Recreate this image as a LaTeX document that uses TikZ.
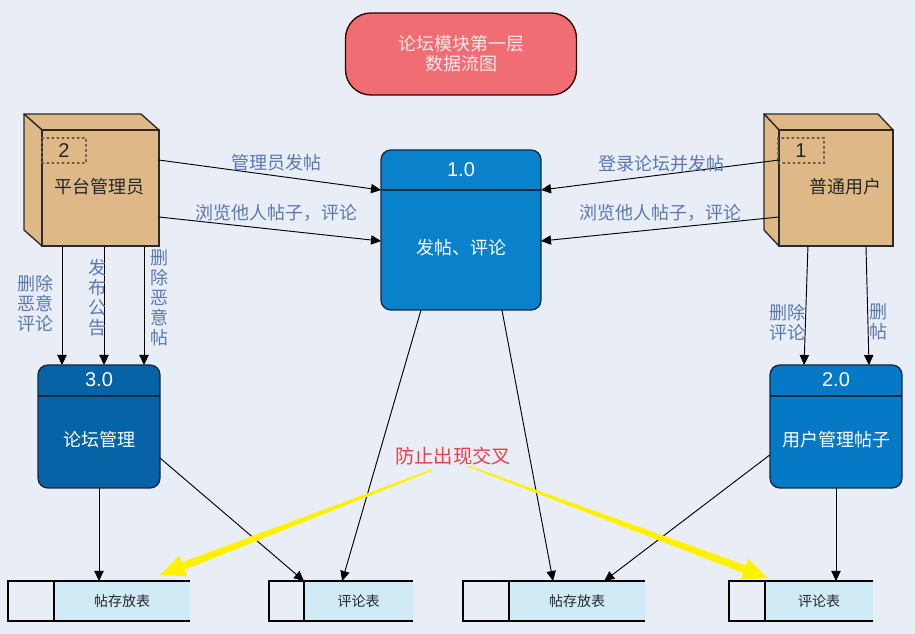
\documentclass[tikz,border=0pt]{standalone}
\usepackage{fontspec}
\setmainfont{Noto Sans CJK SC}
\newfontfamily\numfont{Liberation Sans}
\usetikzlibrary{arrows.meta,calc}
\definecolor{bg}{HTML}{E9EDF5}
\definecolor{titlefill}{HTML}{F06E73}
\definecolor{titletext}{HTML}{FFE8E8}
\definecolor{cube}{HTML}{DEB987}
\definecolor{cubeedge}{HTML}{2A2A2A}
\definecolor{pone}{HTML}{0A82CB}
\definecolor{ptwo}{HTML}{0679C6}
\definecolor{pthree}{HTML}{0563A6}
\definecolor{pedge}{HTML}{142846}
\definecolor{store}{HTML}{D0EAF6}
\definecolor{lbl}{HTML}{5A78B4}
\definecolor{warn}{HTML}{F03C46}
\definecolor{dotc}{HTML}{6E5A46}
\tikzset{
  lblfont/.style={font=\fontsize{13.5}{15}\selectfont},
  procbox/.style={draw=pedge, line width=1pt, rounded corners=7.5pt, inner sep=0pt, outer sep=0pt},
  proctext/.style={text=white, lblfont},
  procnum/.style={text=white, font=\numfont\fontsize{15}{16}\selectfont},
  cubeface/.style={draw=cubeedge, fill=cube, line width=1pt, inner sep=0pt, outer sep=0pt},
  dotbox/.style={draw=dotc, line width=1.1pt, dash pattern=on 1.2pt off 2.6pt, line cap=round, inner sep=0pt, outer sep=0pt, minimum width=33pt, minimum height=18.75pt, text=black!85, font=\numfont\fontsize{15}{16}\selectfont},
  edgelabel/.style={text=lbl, lblfont, align=center, inner sep=0pt},
  storemain/.style={fill=store, inner sep=0pt, outer sep=0pt, minimum height=30pt, font=\fontsize{10.5}{12}\selectfont, text=black!85},
  storebox/.style={draw=black, fill=bg, line width=1pt, inner sep=0pt, outer sep=0pt, minimum height=30pt},
  arr/.style={draw=black, line width=0.7pt, -{Triangle[length=7.5pt,width=7pt]}},
  yarrow/.style={fill=yellow, draw=none}
}
\begin{document}
\begin{tikzpicture}[x=0.75pt,y=-0.75pt]
\fill[bg] (0,0) rectangle (915,634);
\useasboundingbox (0,0) rectangle (915,634);

% title
\node[draw=black!80!red, line width=1pt, fill=titlefill, rounded corners=19pt, minimum width=173.25pt, minimum height=61.5pt, inner sep=0pt, text=titletext, align=center, lblfont] (title) at (461,54) {论坛模块第一层\\数据流图};

% left cube
\fill[cube, draw=cubeedge, line width=1pt, line join=round] (24,114) -- (141,114) -- (159,130) -- (42,130) -- cycle;
\fill[cube, draw=cubeedge, line width=1pt, line join=round] (24,114) -- (42,130) -- (42,246) -- (24,230) -- cycle;
\node[cubeface, minimum width=87.75pt, minimum height=87pt] (lc) at (100.5,188) {};
\node[dotbox] (lcnum) at (64,150.5) {2};
\node[lblfont, text=black!85] (lctext) at (100,187) {平台管理员};

% right cube
\fill[cube, draw=cubeedge, line width=1pt, line join=round] (764,114) -- (878,114) -- (893,130) -- (779,130) -- cycle;
\fill[cube, draw=cubeedge, line width=1pt, line join=round] (764,114) -- (779,130) -- (779,246) -- (764,230) -- cycle;
\node[cubeface, minimum width=85.5pt, minimum height=87pt] (rc) at (836,188) {};
\node[dotbox, minimum width=34.5pt] (rcnum) at (801,150.5) {1};
\node[lblfont, text=black!85] (rctext) at (845,187) {普通用户};

% processes
\node[procbox, fill=pone, minimum width=120pt, minimum height=120pt] (p1) at (461,230) {};
\draw[pedge, line width=1pt] (p1.west |- 0,190) -- (p1.east |- 0,190);
\node[procnum] (p1n) at (461,170) {1.0};
\node[proctext] (p1t) at (461,248) {发帖、评论};

\node[procbox, fill=pthree, minimum width=91.5pt, minimum height=92.25pt] (p3) at (99,426.5) {};
\draw[pedge, line width=1pt] (p3.west |- 0,396) -- (p3.east |- 0,396);
\node[procnum] (p3n) at (99,380) {3.0};
\node[proctext] (p3t) at (99,440) {论坛管理};

\node[procbox, fill=ptwo, minimum width=99pt, minimum height=92.25pt] (p2) at (836,426.5) {};
\draw[pedge, line width=1pt] (p2.west |- 0,396) -- (p2.east |- 0,396);
\node[procnum] (p2n) at (836,380) {2.0};
\node[proctext] (p2t) at (836,440) {用户管理帖子};

% data stores
\node[storemain, minimum width=102pt] (s1) at (122,601) {帖存放表};
\node[storebox, minimum width=34.5pt] (s1b) at (31,601) {};
\draw[line width=1pt] (s1b.north west) -- (s1.north east) (s1b.south west) -- (s1.south east);

\node[storemain, minimum width=81.75pt] (s2) at (358.5,601) {评论表};
\node[storebox, minimum width=26.25pt] (s2b) at (286.5,601) {};
\draw[line width=1pt] (s2b.north west) -- (s2.north east) (s2b.south west) -- (s2.south east);

\node[storemain, minimum width=102pt] (s3) at (577,601) {帖存放表};
\node[storebox, minimum width=34.5pt] (s3b) at (486,601) {};
\draw[line width=1pt] (s3b.north west) -- (s3.north east) (s3b.south west) -- (s3.south east);

\node[storemain, minimum width=81pt] (s4) at (819,601) {评论表};
\node[storebox, minimum width=27pt] (s4b) at (747,601) {};
\draw[line width=1pt] (s4b.north west) -- (s4.north east) (s4b.south west) -- (s4.south east);

% cubes -> p1
\draw[arr] ($(lc.north east)!0.259!(lc.south east)$) -- ($(p1.north west)!0.25!(p1.south west)$);
\draw[arr] ($(lc.north east)!0.75!(lc.south east)$) -- ($(p1.north west)!0.569!(p1.south west)$);
\draw[arr] ($(rc.north west)!0.259!(rc.south west)$) -- ($(p1.north east)!0.25!(p1.south east)$);
\draw[arr] ($(rc.north west)!0.75!(rc.south west)$) -- ($(p1.north east)!0.569!(p1.south east)$);
\node[edgelabel] (l1) at (276,163) {管理员发帖};
\node[edgelabel] (l2) at (276,213) {浏览他人帖子，评论};
\node[edgelabel] (l3) at (661,164) {登录论坛并发帖};
\node[edgelabel] (l4) at (660,213) {浏览他人帖子，评论};

% left cube -> p3
\coordinate (d1) at ($(lc.south west)!0.171!(lc.south east)$);
\coordinate (d2) at ($(lc.south west)!0.53!(lc.south east)$);
\coordinate (d3) at ($(lc.south west)!0.872!(lc.south east)$);
\draw[arr] (d1) -- (d1 |- p3.north);
\draw[arr] (d2) -- (d2 |- p3.north);
\draw[arr] (d3) -- (d3 |- p3.north);
\node[edgelabel] (l5) at (35,304) {删除\\恶意\\评论};
\node[edgelabel] (l6) at (97,298) {发\\布\\公\\告};
\node[edgelabel] (l7) at (159,298) {删\\除\\恶\\意\\帖};

% right cube -> p2
\draw[arr] ($(rc.south west)!0.254!(rc.south east)$) -- ($(p2.north west)!0.258!(p2.north east)$);
\draw[arr] ($(rc.south west)!0.763!(rc.south east)$) -- ($(p2.north west)!0.75!(p2.north east)$);
\node[edgelabel] (l8) at (787,323) {删除\\评论};
\node[edgelabel] (l9) at (878,322) {删\\帖};

% processes -> stores
\draw[arr] ($(p1.south west)!0.25!(p1.south east)$) -- ($(s2.north west)!0.35!(s2.north east)$);
\draw[arr] ($(p1.south west)!0.756!(p1.south east)$) -- ($(s3.north west)!0.324!(s3.north east)$);
\draw[arr] (p3.south) -- (p3.south |- s1.north);
\draw[arr] ($(p3.north east)!0.756!(p3.south east)$) -- (s2b.north east);
\draw[arr] ($(p2.north west)!0.73!(p2.south west)$) -- ($(s3.north west)!0.70!(s3.north east)$);
\draw[arr] (p2.south) -- (p2.south |- s4.north);

% warning text and yellow arrows
\node[text=warn, font=\fontsize{14.5}{16}\selectfont, inner sep=1pt] (warn) at (453,456) {防止出现交叉};
\fill[yarrow] (432.25,470.65) -- (184.7,569.7) -- (187.3,576.3) -- (160,575) -- (179.3,555.7) -- (181.9,562.3) -- (431.75,469.35) -- cycle;
\fill[yarrow] (467.75,466.66) -- (743.2,573.0) -- (740.75,579.6) -- (768,578) -- (748.45,558.9) -- (746.0,565.5) -- (468.25,465.34) -- cycle;
\end{tikzpicture}
\end{document}
